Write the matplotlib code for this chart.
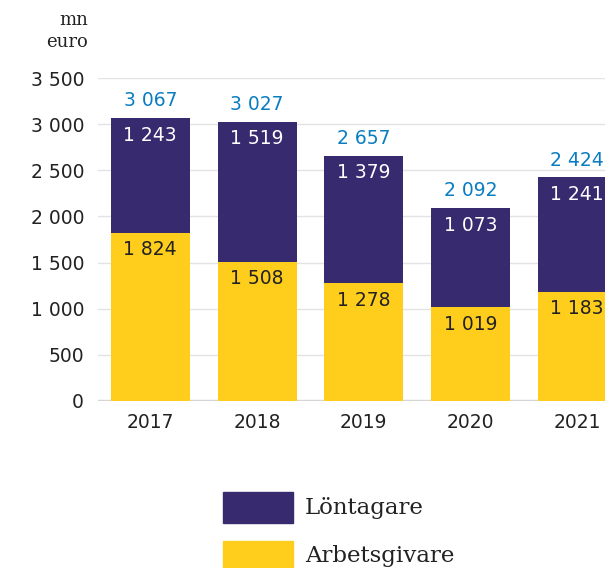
import matplotlib
matplotlib.use("Agg")
import matplotlib.pyplot as plt
from matplotlib.patches import Rectangle

years = ["2017", "2018", "2019", "2020", "2021"]
arbetsgivare = [1824, 1508, 1278, 1019, 1183]
lontagare = [1243, 1519, 1379, 1073, 1241]
totals = [3067, 3027, 2657, 2092, 2424]
yticks = [0, 500, 1000, 1500, 2000, 2500, 3000, 3500]

PURPLE = "#372A6E"
YELLOW = "#FFCD1C"
BLUE = "#0A7DC2"
DARK = "#222222"

def fmt(v):
    return f"{v:,}".replace(",", " ")

fig = plt.figure(figsize=(6.05, 5.68), dpi=100)
ax = fig.add_axes([98/605, 1-401/568, (605-98)/605, (401-78)/568])

x = list(range(len(years)))
w = 0.74
ax.bar(x, arbetsgivare, width=w, color=YELLOW, zorder=3)
ax.bar(x, lontagare, width=w, bottom=arbetsgivare, color=PURPLE, zorder=3)

fs = 13.5
off = 185
for i in x:
    a, l, t = arbetsgivare[i], lontagare[i], totals[i]
    ax.text(i, a - off, fmt(a), ha="center", va="center", color=DARK, fontsize=fs, zorder=4)
    ax.text(i, a + l - off, fmt(l), ha="center", va="center", color="white", fontsize=fs, zorder=4)
    ax.text(i, t + off, fmt(t), ha="center", va="center", color=BLUE, fontsize=fs, zorder=4)

ax.set_xlim(-0.49, 4.26)
ax.set_ylim(0, 3500)
ax.set_yticks(yticks)
ax.set_yticklabels([fmt(v) for v in yticks], fontsize=fs, color=DARK)
ax.set_xticks(x)
ax.set_xticklabels(years, fontsize=fs, color=DARK)
ax.tick_params(axis="both", length=0)
ax.tick_params(axis="y", pad=10)
ax.tick_params(axis="x", pad=9)
ax.grid(axis="y", color="#E3E3E3", linewidth=1, zorder=0)
for s in ax.spines.values():
    s.set_visible(False)
ax.axhline(0, color="#D5D5D5", linewidth=2.5, zorder=2)

fig.text(88/605, 1-20/568, "mn", ha="right", va="center", fontsize=13, family="DejaVu Serif", color=DARK)
fig.text(88/605, 1-42/568, "euro", ha="right", va="center", fontsize=13, family="DejaVu Serif", color=DARK)

# legend
fig.patches.append(Rectangle((223/605, 1-523/568), 70/605, 31/568, transform=fig.transFigure, color=PURPLE, figure=fig))
fig.patches.append(Rectangle((223/605, 1-568/568), 70/605, 27/568, transform=fig.transFigure, color=YELLOW, figure=fig))
fig.text(305/605, 1-508/568, "Löntagare", ha="left", va="center", fontsize=16.5, family="DejaVu Serif", color=DARK)
fig.text(305/605, 1-556/568, "Arbetsgivare", ha="left", va="center", fontsize=16.5, family="DejaVu Serif", color=DARK)

fig.savefig("out.png", dpi=100)
